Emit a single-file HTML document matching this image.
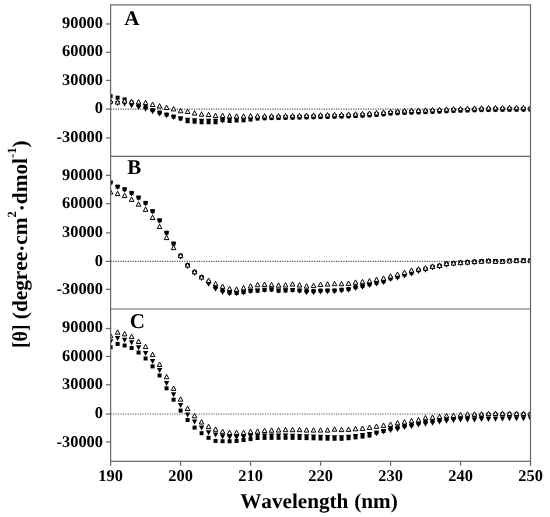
<!DOCTYPE html>
<html><head><meta charset="utf-8"><style>
html,body{margin:0;padding:0;background:#fff;}
body{width:550px;height:517px;position:relative;overflow:hidden;font-family:"Liberation Serif",serif;}
</style></head><body>
<svg width="550" height="517" viewBox="0 0 550 517" style="position:absolute;left:0;top:0;will-change:transform">
<defs><clipPath id="pc"><rect x="110.60" y="4.90" width="419.90" height="456.40"/></clipPath></defs>
<line x1="110.6" y1="109.10" x2="530.5" y2="109.10" stroke="#555" stroke-width="1.1" stroke-dasharray="1.2 1.25"/>
<line x1="110.6" y1="261.35" x2="530.5" y2="261.35" stroke="#555" stroke-width="1.1" stroke-dasharray="1.2 1.25"/>
<line x1="110.6" y1="414.00" x2="530.5" y2="414.00" stroke="#555" stroke-width="1.1" stroke-dasharray="1.2 1.25"/>
<g clip-path="url(#pc)">
<g fill="#000"><rect x="108.60" y="94.20" width="4.0" height="4.0"/><rect x="115.60" y="95.70" width="4.0" height="4.0"/><rect x="122.60" y="97.40" width="4.0" height="4.0"/><rect x="129.59" y="100.50" width="4.0" height="4.0"/><rect x="136.59" y="103.00" width="4.0" height="4.0"/><rect x="143.59" y="105.00" width="4.0" height="4.0"/><rect x="150.59" y="108.00" width="4.0" height="4.0"/><rect x="157.59" y="110.50" width="4.0" height="4.0"/><rect x="164.58" y="112.50" width="4.0" height="4.0"/><rect x="171.58" y="114.50" width="4.0" height="4.0"/><rect x="178.58" y="116.50" width="4.0" height="4.0"/><rect x="185.58" y="119.20" width="4.0" height="4.0"/><rect x="192.58" y="119.70" width="4.0" height="4.0"/><rect x="199.57" y="120.30" width="4.0" height="4.0"/><rect x="206.57" y="120.30" width="4.0" height="4.0"/><rect x="213.57" y="120.30" width="4.0" height="4.0"/><rect x="220.57" y="118.10" width="4.0" height="4.0"/><rect x="227.57" y="119.00" width="4.0" height="4.0"/><rect x="234.56" y="118.50" width="4.0" height="4.0"/><rect x="241.56" y="118.30" width="4.0" height="4.0"/><rect x="248.56" y="117.50" width="4.0" height="4.0"/><rect x="255.56" y="116.50" width="4.0" height="4.0"/><rect x="262.56" y="116.23" width="4.0" height="4.0"/><rect x="269.55" y="116.06" width="4.0" height="4.0"/><rect x="276.55" y="115.94" width="4.0" height="4.0"/><rect x="283.55" y="115.80" width="4.0" height="4.0"/><rect x="290.55" y="115.64" width="4.0" height="4.0"/><rect x="297.55" y="115.48" width="4.0" height="4.0"/><rect x="304.54" y="115.33" width="4.0" height="4.0"/><rect x="311.54" y="115.17" width="4.0" height="4.0"/><rect x="318.54" y="115.00" width="4.0" height="4.0"/><rect x="325.54" y="114.83" width="4.0" height="4.0"/><rect x="332.54" y="114.65" width="4.0" height="4.0"/><rect x="339.53" y="114.47" width="4.0" height="4.0"/><rect x="346.53" y="114.25" width="4.0" height="4.0"/><rect x="353.53" y="114.00" width="4.0" height="4.0"/><rect x="360.53" y="113.69" width="4.0" height="4.0"/><rect x="367.53" y="113.31" width="4.0" height="4.0"/><rect x="374.52" y="112.85" width="4.0" height="4.0"/><rect x="381.52" y="112.30" width="4.0" height="4.0"/><rect x="388.52" y="111.50" width="4.0" height="4.0"/><rect x="395.52" y="111.10" width="4.0" height="4.0"/><rect x="402.52" y="110.81" width="4.0" height="4.0"/><rect x="409.51" y="110.58" width="4.0" height="4.0"/><rect x="416.51" y="110.36" width="4.0" height="4.0"/><rect x="423.51" y="110.10" width="4.0" height="4.0"/><rect x="430.51" y="109.79" width="4.0" height="4.0"/><rect x="437.51" y="109.46" width="4.0" height="4.0"/><rect x="444.50" y="109.14" width="4.0" height="4.0"/><rect x="451.50" y="108.84" width="4.0" height="4.0"/><rect x="458.50" y="108.60" width="4.0" height="4.0"/><rect x="465.50" y="108.39" width="4.0" height="4.0"/><rect x="472.50" y="108.20" width="4.0" height="4.0"/><rect x="479.49" y="108.03" width="4.0" height="4.0"/><rect x="486.49" y="107.89" width="4.0" height="4.0"/><rect x="493.49" y="107.80" width="4.0" height="4.0"/><rect x="500.49" y="107.74" width="4.0" height="4.0"/><rect x="507.49" y="107.68" width="4.0" height="4.0"/><rect x="514.48" y="107.64" width="4.0" height="4.0"/><rect x="521.48" y="107.61" width="4.0" height="4.0"/><rect x="528.48" y="107.60" width="4.0" height="4.0"/><path d="M107.90 101.00H113.30L110.60 106.00Z"/><path d="M114.90 101.00H120.30L117.60 106.00Z"/><path d="M121.90 101.60H127.30L124.60 106.60Z"/><path d="M128.89 103.20H134.29L131.59 108.20Z"/><path d="M135.89 105.00H141.29L138.59 110.00Z"/><path d="M142.89 106.80H148.29L145.59 111.80Z"/><path d="M149.89 109.30H155.29L152.59 114.30Z"/><path d="M156.89 111.50H162.29L159.59 116.50Z"/><path d="M163.88 113.20H169.28L166.58 118.20Z"/><path d="M170.88 115.00H176.28L173.58 120.00Z"/><path d="M177.88 116.50H183.28L180.58 121.50Z"/><path d="M184.88 117.70H190.28L187.58 122.70Z"/><path d="M191.88 118.20H197.28L194.58 123.20Z"/><path d="M198.87 118.80H204.27L201.57 123.80Z"/><path d="M205.87 118.80H211.27L208.57 123.80Z"/><path d="M212.87 118.80H218.27L215.57 123.80Z"/><path d="M219.87 118.60H225.27L222.57 123.60Z"/><path d="M226.87 117.30H232.27L229.57 122.30Z"/><path d="M233.86 117.30H239.26L236.56 122.30Z"/><path d="M240.86 117.00H246.26L243.56 122.00Z"/><path d="M247.86 116.80H253.26L250.56 121.80Z"/><path d="M254.86 116.00H260.26L257.56 121.00Z"/><path d="M261.86 115.74H267.26L264.56 120.74Z"/><path d="M268.85 115.57H274.25L271.55 120.57Z"/><path d="M275.85 115.44H281.25L278.55 120.44Z"/><path d="M282.85 115.30H288.25L285.55 120.30Z"/><path d="M289.85 115.14H295.25L292.55 120.14Z"/><path d="M296.85 114.98H302.25L299.55 119.98Z"/><path d="M303.84 114.83H309.24L306.54 119.83Z"/><path d="M310.84 114.67H316.24L313.54 119.67Z"/><path d="M317.84 114.50H323.24L320.54 119.50Z"/><path d="M324.84 114.33H330.24L327.54 119.33Z"/><path d="M331.84 114.15H337.24L334.54 119.15Z"/><path d="M338.83 113.97H344.23L341.53 118.97Z"/><path d="M345.83 113.75H351.23L348.53 118.75Z"/><path d="M352.83 113.50H358.23L355.53 118.50Z"/><path d="M359.83 113.19H365.23L362.53 118.19Z"/><path d="M366.83 112.81H372.23L369.53 117.81Z"/><path d="M373.82 112.35H379.22L376.52 117.35Z"/><path d="M380.82 111.80H386.22L383.52 116.80Z"/><path d="M387.82 111.00H393.22L390.52 116.00Z"/><path d="M394.82 110.60H400.22L397.52 115.60Z"/><path d="M401.82 110.31H407.22L404.52 115.31Z"/><path d="M408.81 110.08H414.21L411.51 115.08Z"/><path d="M415.81 109.86H421.21L418.51 114.86Z"/><path d="M422.81 109.60H428.21L425.51 114.60Z"/><path d="M429.81 109.29H435.21L432.51 114.29Z"/><path d="M436.81 108.96H442.21L439.51 113.96Z"/><path d="M443.80 108.64H449.20L446.50 113.64Z"/><path d="M450.80 108.34H456.20L453.50 113.34Z"/><path d="M457.80 108.10H463.20L460.50 113.10Z"/><path d="M464.80 107.89H470.20L467.50 112.89Z"/><path d="M471.80 107.70H477.20L474.50 112.70Z"/><path d="M478.79 107.53H484.19L481.49 112.53Z"/><path d="M485.79 107.39H491.19L488.49 112.39Z"/><path d="M492.79 107.30H498.19L495.49 112.30Z"/><path d="M499.79 107.24H505.19L502.49 112.24Z"/><path d="M506.79 107.18H512.19L509.49 112.18Z"/><path d="M513.78 107.14H519.18L516.48 112.14Z"/><path d="M520.78 107.11H526.18L523.48 112.11Z"/><path d="M527.78 107.10H533.18L530.48 112.10Z"/></g><g fill="#fff" stroke="#000" stroke-width="1"><path d="M110.60 98.70L112.90 103.10H108.30Z"/><path d="M117.60 99.70L119.90 104.10H115.30Z"/><path d="M124.60 98.60L126.90 103.00H122.30Z"/><path d="M131.59 99.20L133.89 103.60H129.29Z"/><path d="M138.59 99.50L140.89 103.90H136.29Z"/><path d="M145.59 100.20L147.89 104.60H143.29Z"/><path d="M152.59 102.10L154.89 106.50H150.29Z"/><path d="M159.59 103.60L161.89 108.00H157.29Z"/><path d="M166.58 105.10L168.88 109.50H164.28Z"/><path d="M173.58 106.50L175.88 110.90H171.28Z"/><path d="M180.58 108.40L182.88 112.80H178.28Z"/><path d="M187.58 109.10L189.88 113.50H185.28Z"/><path d="M194.58 110.70L196.88 115.10H192.28Z"/><path d="M201.57 111.80L203.87 116.20H199.27Z"/><path d="M208.57 112.20L210.87 116.60H206.27Z"/><path d="M215.57 113.10L217.87 117.50H213.27Z"/><path d="M222.57 113.10L224.87 117.50H220.27Z"/><path d="M229.57 113.60L231.87 118.00H227.27Z"/><path d="M236.56 113.80L238.86 118.20H234.26Z"/><path d="M243.56 113.80L245.86 118.20H241.26Z"/><path d="M250.56 113.60L252.86 118.00H248.26Z"/><path d="M257.56 113.70L259.86 118.10H255.26Z"/><path d="M264.56 113.68L266.86 118.08H262.26Z"/><path d="M271.55 113.64L273.85 118.04H269.25Z"/><path d="M278.55 113.57L280.85 117.97H276.25Z"/><path d="M285.55 113.50L287.85 117.90H283.25Z"/><path d="M292.55 113.40L294.85 117.80H290.25Z"/><path d="M299.55 113.25L301.85 117.65H297.25Z"/><path d="M306.54 113.07L308.84 117.47H304.24Z"/><path d="M313.54 112.89L315.84 117.29H311.24Z"/><path d="M320.54 112.70L322.84 117.10H318.24Z"/><path d="M327.54 112.53L329.84 116.93H325.24Z"/><path d="M334.54 112.35L336.84 116.75H332.24Z"/><path d="M341.53 112.17L343.83 116.57H339.23Z"/><path d="M348.53 111.95L350.83 116.35H346.23Z"/><path d="M355.53 111.70L357.83 116.10H353.23Z"/><path d="M362.53 111.39L364.83 115.79H360.23Z"/><path d="M369.53 111.01L371.83 115.41H367.23Z"/><path d="M376.52 110.55L378.82 114.95H374.22Z"/><path d="M383.52 110.00L385.82 114.40H381.22Z"/><path d="M390.52 109.20L392.82 113.60H388.22Z"/><path d="M397.52 108.80L399.82 113.20H395.22Z"/><path d="M404.52 108.51L406.82 112.91H402.22Z"/><path d="M411.51 108.28L413.81 112.68H409.21Z"/><path d="M418.51 108.06L420.81 112.46H416.21Z"/><path d="M425.51 107.80L427.81 112.20H423.21Z"/><path d="M432.51 107.49L434.81 111.89H430.21Z"/><path d="M439.51 107.16L441.81 111.56H437.21Z"/><path d="M446.50 106.84L448.80 111.24H444.20Z"/><path d="M453.50 106.54L455.80 110.94H451.20Z"/><path d="M460.50 106.30L462.80 110.70H458.20Z"/><path d="M467.50 106.09L469.80 110.49H465.20Z"/><path d="M474.50 105.90L476.80 110.30H472.20Z"/><path d="M481.49 105.73L483.79 110.13H479.19Z"/><path d="M488.49 105.59L490.79 109.99H486.19Z"/><path d="M495.49 105.50L497.79 109.90H493.19Z"/><path d="M502.49 105.44L504.79 109.84H500.19Z"/><path d="M509.49 105.38L511.79 109.78H507.19Z"/><path d="M516.48 105.34L518.78 109.74H514.18Z"/><path d="M523.48 105.31L525.78 109.71H521.18Z"/><path d="M530.48 105.30L532.78 109.70H528.18Z"/></g>
<g fill="#000"><rect x="108.60" y="180.50" width="4.0" height="4.0"/><rect x="115.60" y="184.60" width="4.0" height="4.0"/><rect x="122.60" y="187.20" width="4.0" height="4.0"/><rect x="129.59" y="190.90" width="4.0" height="4.0"/><rect x="136.59" y="195.50" width="4.0" height="4.0"/><rect x="143.59" y="200.90" width="4.0" height="4.0"/><rect x="150.59" y="209.10" width="4.0" height="4.0"/><rect x="157.59" y="218.30" width="4.0" height="4.0"/><rect x="164.58" y="230.70" width="4.0" height="4.0"/><rect x="171.58" y="241.50" width="4.0" height="4.0"/><rect x="178.58" y="253.50" width="4.0" height="4.0"/><rect x="185.58" y="263.00" width="4.0" height="4.0"/><rect x="192.58" y="269.80" width="4.0" height="4.0"/><rect x="199.57" y="275.00" width="4.0" height="4.0"/><rect x="206.57" y="280.20" width="4.0" height="4.0"/><rect x="213.57" y="285.00" width="4.0" height="4.0"/><rect x="220.57" y="288.30" width="4.0" height="4.0"/><rect x="227.57" y="290.50" width="4.0" height="4.0"/><rect x="234.56" y="291.00" width="4.0" height="4.0"/><rect x="241.56" y="290.00" width="4.0" height="4.0"/><rect x="248.56" y="289.00" width="4.0" height="4.0"/><rect x="255.56" y="288.70" width="4.0" height="4.0"/><rect x="262.56" y="288.00" width="4.0" height="4.0"/><rect x="269.55" y="287.50" width="4.0" height="4.0"/><rect x="276.55" y="288.80" width="4.0" height="4.0"/><rect x="283.55" y="288.50" width="4.0" height="4.0"/><rect x="290.55" y="288.00" width="4.0" height="4.0"/><rect x="297.55" y="288.50" width="4.0" height="4.0"/><rect x="304.54" y="288.80" width="4.0" height="4.0"/><rect x="311.54" y="289.00" width="4.0" height="4.0"/><rect x="318.54" y="288.50" width="4.0" height="4.0"/><rect x="325.54" y="288.40" width="4.0" height="4.0"/><rect x="332.54" y="288.40" width="4.0" height="4.0"/><rect x="339.53" y="287.70" width="4.0" height="4.0"/><rect x="346.53" y="287.00" width="4.0" height="4.0"/><rect x="353.53" y="285.10" width="4.0" height="4.0"/><rect x="360.53" y="283.90" width="4.0" height="4.0"/><rect x="367.53" y="282.20" width="4.0" height="4.0"/><rect x="374.52" y="280.70" width="4.0" height="4.0"/><rect x="381.52" y="279.30" width="4.0" height="4.0"/><rect x="388.52" y="276.30" width="4.0" height="4.0"/><rect x="395.52" y="274.70" width="4.0" height="4.0"/><rect x="402.52" y="272.70" width="4.0" height="4.0"/><rect x="409.51" y="270.70" width="4.0" height="4.0"/><rect x="416.51" y="268.10" width="4.0" height="4.0"/><rect x="423.51" y="267.00" width="4.0" height="4.0"/><rect x="430.51" y="264.80" width="4.0" height="4.0"/><rect x="437.51" y="263.70" width="4.0" height="4.0"/><rect x="444.50" y="261.50" width="4.0" height="4.0"/><rect x="451.50" y="261.00" width="4.0" height="4.0"/><rect x="458.50" y="260.50" width="4.0" height="4.0"/><rect x="465.50" y="260.00" width="4.0" height="4.0"/><rect x="472.50" y="259.50" width="4.0" height="4.0"/><rect x="479.49" y="259.20" width="4.0" height="4.0"/><rect x="486.49" y="258.80" width="4.0" height="4.0"/><rect x="493.49" y="259.30" width="4.0" height="4.0"/><rect x="500.49" y="259.30" width="4.0" height="4.0"/><rect x="507.49" y="258.80" width="4.0" height="4.0"/><rect x="514.48" y="258.50" width="4.0" height="4.0"/><rect x="521.48" y="258.50" width="4.0" height="4.0"/><rect x="528.48" y="258.50" width="4.0" height="4.0"/><path d="M107.90 181.00H113.30L110.60 186.00Z"/><path d="M114.90 185.10H120.30L117.60 190.10Z"/><path d="M121.90 187.70H127.30L124.60 192.70Z"/><path d="M128.89 191.40H134.29L131.59 196.40Z"/><path d="M135.89 196.00H141.29L138.59 201.00Z"/><path d="M142.89 201.40H148.29L145.59 206.40Z"/><path d="M149.89 209.60H155.29L152.59 214.60Z"/><path d="M156.89 218.80H162.29L159.59 223.80Z"/><path d="M163.88 231.20H169.28L166.58 236.20Z"/><path d="M170.88 242.00H176.28L173.58 247.00Z"/><path d="M177.88 254.60H183.28L180.58 259.60Z"/><path d="M184.88 264.10H190.28L187.58 269.10Z"/><path d="M191.88 270.90H197.28L194.58 275.90Z"/><path d="M198.87 276.10H204.27L201.57 281.10Z"/><path d="M205.87 281.70H211.27L208.57 286.70Z"/><path d="M212.87 286.80H218.27L215.57 291.80Z"/><path d="M219.87 290.00H225.27L222.57 295.00Z"/><path d="M226.87 291.20H232.27L229.57 296.20Z"/><path d="M233.86 291.30H239.26L236.56 296.30Z"/><path d="M240.86 290.50H246.26L243.56 295.50Z"/><path d="M247.86 289.10H253.26L250.56 294.10Z"/><path d="M254.86 288.50H260.26L257.56 293.50Z"/><path d="M261.86 287.80H267.26L264.56 292.80Z"/><path d="M268.85 287.50H274.25L271.55 292.50Z"/><path d="M275.85 288.50H281.25L278.55 293.50Z"/><path d="M282.85 288.20H288.25L285.55 293.20Z"/><path d="M289.85 287.90H295.25L292.55 292.90Z"/><path d="M296.85 288.80H302.25L299.55 293.80Z"/><path d="M303.84 290.30H309.24L306.54 295.30Z"/><path d="M310.84 290.30H316.24L313.54 295.30Z"/><path d="M317.84 289.50H323.24L320.54 294.50Z"/><path d="M324.84 289.20H330.24L327.54 294.20Z"/><path d="M331.84 289.20H337.24L334.54 294.20Z"/><path d="M338.83 288.50H344.23L341.53 293.50Z"/><path d="M345.83 287.80H351.23L348.53 292.80Z"/><path d="M352.83 285.90H358.23L355.53 290.90Z"/><path d="M359.83 284.70H365.23L362.53 289.70Z"/><path d="M366.83 283.00H372.23L369.53 288.00Z"/><path d="M373.82 281.50H379.22L376.52 286.50Z"/><path d="M380.82 280.10H386.22L383.52 285.10Z"/><path d="M387.82 277.10H393.22L390.52 282.10Z"/><path d="M394.82 275.50H400.22L397.52 280.50Z"/><path d="M401.82 273.50H407.22L404.52 278.50Z"/><path d="M408.81 271.50H414.21L411.51 276.50Z"/><path d="M415.81 268.90H421.21L418.51 273.90Z"/><path d="M422.81 267.80H428.21L425.51 272.80Z"/><path d="M429.81 265.60H435.21L432.51 270.60Z"/><path d="M436.81 264.50H442.21L439.51 269.50Z"/><path d="M443.80 262.80H449.20L446.50 267.80Z"/><path d="M450.80 261.70H456.20L453.50 266.70Z"/><path d="M457.80 260.90H463.20L460.50 265.90Z"/><path d="M464.80 260.70H470.20L467.50 265.70Z"/><path d="M471.80 260.30H477.20L474.50 265.30Z"/><path d="M478.79 259.50H484.19L481.49 264.50Z"/><path d="M485.79 258.90H491.19L488.49 263.90Z"/><path d="M492.79 259.30H498.19L495.49 264.30Z"/><path d="M499.79 259.30H505.19L502.49 264.30Z"/><path d="M506.79 258.80H512.19L509.49 263.80Z"/><path d="M513.78 258.50H519.18L516.48 263.50Z"/><path d="M520.78 258.50H526.18L523.48 263.50Z"/><path d="M527.78 258.50H533.18L530.48 263.50Z"/></g><g fill="#fff" stroke="#000" stroke-width="1"><path d="M110.60 189.70L112.90 194.10H108.30Z"/><path d="M117.60 191.20L119.90 195.60H115.30Z"/><path d="M124.60 193.20L126.90 197.60H122.30Z"/><path d="M131.59 197.00L133.89 201.40H129.29Z"/><path d="M138.59 201.80L140.89 206.20H136.29Z"/><path d="M145.59 207.00L147.89 211.40H143.29Z"/><path d="M152.59 215.10L154.89 219.50H150.29Z"/><path d="M159.59 224.20L161.89 228.60H157.29Z"/><path d="M166.58 235.20L168.88 239.60H164.28Z"/><path d="M173.58 245.30L175.88 249.70H171.28Z"/><path d="M180.58 253.20L182.88 257.60H178.28Z"/><path d="M187.58 262.70L189.88 267.10H185.28Z"/><path d="M194.58 269.50L196.88 273.90H192.28Z"/><path d="M201.57 274.70L203.87 279.10H199.27Z"/><path d="M208.57 278.10L210.87 282.50H206.27Z"/><path d="M215.57 281.30L217.87 285.70H213.27Z"/><path d="M222.57 284.00L224.87 288.40H220.27Z"/><path d="M229.57 286.20L231.87 290.60H227.27Z"/><path d="M236.56 286.90L238.86 291.30H234.26Z"/><path d="M243.56 285.40L245.86 289.80H241.26Z"/><path d="M250.56 283.70L252.86 288.10H248.26Z"/><path d="M257.56 282.30L259.86 286.70H255.26Z"/><path d="M264.56 282.00L266.86 286.40H262.26Z"/><path d="M271.55 282.30L273.85 286.70H269.25Z"/><path d="M278.55 282.80L280.85 287.20H276.25Z"/><path d="M285.55 282.60L287.85 287.00H283.25Z"/><path d="M292.55 281.70L294.85 286.10H290.25Z"/><path d="M299.55 282.60L301.85 287.00H297.25Z"/><path d="M306.54 283.70L308.84 288.10H304.24Z"/><path d="M313.54 283.20L315.84 287.60H311.24Z"/><path d="M320.54 282.10L322.84 286.50H318.24Z"/><path d="M327.54 281.70L329.84 286.10H325.24Z"/><path d="M334.54 281.30L336.84 285.70H332.24Z"/><path d="M341.53 281.30L343.83 285.70H339.23Z"/><path d="M348.53 281.00L350.83 285.40H346.23Z"/><path d="M355.53 279.90L357.83 284.30H353.23Z"/><path d="M362.53 279.30L364.83 283.70H360.23Z"/><path d="M369.53 278.50L371.83 282.90H367.23Z"/><path d="M376.52 277.00L378.82 281.40H374.22Z"/><path d="M383.52 275.90L385.82 280.30H381.22Z"/><path d="M390.52 273.70L392.82 278.10H388.22Z"/><path d="M397.52 271.90L399.82 276.30H395.22Z"/><path d="M404.52 270.10L406.82 274.50H402.22Z"/><path d="M411.51 267.90L413.81 272.30H409.21Z"/><path d="M418.51 266.70L420.81 271.10H416.21Z"/><path d="M425.51 265.70L427.81 270.10H423.21Z"/><path d="M432.51 263.90L434.81 268.30H430.21Z"/><path d="M439.51 263.10L441.81 267.50H437.21Z"/><path d="M446.50 261.20L448.80 265.60H444.20Z"/><path d="M453.50 260.70L455.80 265.10H451.20Z"/><path d="M460.50 260.20L462.80 264.60H458.20Z"/><path d="M467.50 259.70L469.80 264.10H465.20Z"/><path d="M474.50 259.20L476.80 263.60H472.20Z"/><path d="M481.49 258.90L483.79 263.30H479.19Z"/><path d="M488.49 258.50L490.79 262.90H486.19Z"/><path d="M495.49 259.00L497.79 263.40H493.19Z"/><path d="M502.49 259.00L504.79 263.40H500.19Z"/><path d="M509.49 258.50L511.79 262.90H507.19Z"/><path d="M516.48 258.20L518.78 262.60H514.18Z"/><path d="M523.48 258.20L525.78 262.60H521.18Z"/><path d="M530.48 258.20L532.78 262.60H528.18Z"/></g>
<g fill="#000"><rect x="108.60" y="345.20" width="4.0" height="4.0"/><rect x="115.60" y="341.90" width="4.0" height="4.0"/><rect x="122.60" y="343.50" width="4.0" height="4.0"/><rect x="129.59" y="346.00" width="4.0" height="4.0"/><rect x="136.59" y="350.50" width="4.0" height="4.0"/><rect x="143.59" y="356.50" width="4.0" height="4.0"/><rect x="150.59" y="364.40" width="4.0" height="4.0"/><rect x="157.59" y="373.50" width="4.0" height="4.0"/><rect x="164.58" y="386.30" width="4.0" height="4.0"/><rect x="171.58" y="397.70" width="4.0" height="4.0"/><rect x="178.58" y="408.60" width="4.0" height="4.0"/><rect x="185.58" y="418.00" width="4.0" height="4.0"/><rect x="192.58" y="425.60" width="4.0" height="4.0"/><rect x="199.57" y="431.20" width="4.0" height="4.0"/><rect x="206.57" y="435.80" width="4.0" height="4.0"/><rect x="213.57" y="438.90" width="4.0" height="4.0"/><rect x="220.57" y="439.20" width="4.0" height="4.0"/><rect x="227.57" y="439.30" width="4.0" height="4.0"/><rect x="234.56" y="439.00" width="4.0" height="4.0"/><rect x="241.56" y="438.00" width="4.0" height="4.0"/><rect x="248.56" y="437.10" width="4.0" height="4.0"/><rect x="255.56" y="436.00" width="4.0" height="4.0"/><rect x="262.56" y="435.90" width="4.0" height="4.0"/><rect x="269.55" y="435.84" width="4.0" height="4.0"/><rect x="276.55" y="435.81" width="4.0" height="4.0"/><rect x="283.55" y="435.80" width="4.0" height="4.0"/><rect x="290.55" y="435.85" width="4.0" height="4.0"/><rect x="297.55" y="435.97" width="4.0" height="4.0"/><rect x="304.54" y="436.13" width="4.0" height="4.0"/><rect x="311.54" y="436.30" width="4.0" height="4.0"/><rect x="318.54" y="436.52" width="4.0" height="4.0"/><rect x="325.54" y="436.70" width="4.0" height="4.0"/><rect x="332.54" y="436.77" width="4.0" height="4.0"/><rect x="339.53" y="436.80" width="4.0" height="4.0"/><rect x="346.53" y="436.20" width="4.0" height="4.0"/><rect x="353.53" y="435.40" width="4.0" height="4.0"/><rect x="360.53" y="434.60" width="4.0" height="4.0"/><rect x="367.53" y="433.60" width="4.0" height="4.0"/><rect x="374.52" y="430.50" width="4.0" height="4.0"/><rect x="381.52" y="429.00" width="4.0" height="4.0"/><rect x="388.52" y="426.60" width="4.0" height="4.0"/><rect x="395.52" y="425.40" width="4.0" height="4.0"/><rect x="402.52" y="423.80" width="4.0" height="4.0"/><rect x="409.51" y="422.50" width="4.0" height="4.0"/><rect x="416.51" y="421.00" width="4.0" height="4.0"/><rect x="423.51" y="419.50" width="4.0" height="4.0"/><rect x="430.51" y="418.80" width="4.0" height="4.0"/><rect x="437.51" y="417.80" width="4.0" height="4.0"/><rect x="444.50" y="416.60" width="4.0" height="4.0"/><rect x="451.50" y="416.00" width="4.0" height="4.0"/><rect x="458.50" y="415.00" width="4.0" height="4.0"/><rect x="465.50" y="414.00" width="4.0" height="4.0"/><rect x="472.50" y="413.50" width="4.0" height="4.0"/><rect x="479.49" y="413.00" width="4.0" height="4.0"/><rect x="486.49" y="412.50" width="4.0" height="4.0"/><rect x="493.49" y="412.30" width="4.0" height="4.0"/><rect x="500.49" y="412.20" width="4.0" height="4.0"/><rect x="507.49" y="412.20" width="4.0" height="4.0"/><rect x="514.48" y="412.20" width="4.0" height="4.0"/><rect x="521.48" y="412.20" width="4.0" height="4.0"/><rect x="528.48" y="412.20" width="4.0" height="4.0"/><path d="M107.90 339.20H113.30L110.60 344.20Z"/><path d="M114.90 336.10H120.30L117.60 341.10Z"/><path d="M121.90 337.80H127.30L124.60 342.80Z"/><path d="M128.89 340.20H134.29L131.59 345.20Z"/><path d="M135.89 345.30H141.29L138.59 350.30Z"/><path d="M142.89 350.90H148.29L145.59 355.90Z"/><path d="M149.89 358.90H155.29L152.59 363.90Z"/><path d="M156.89 367.90H162.29L159.59 372.90Z"/><path d="M163.88 381.00H169.28L166.58 386.00Z"/><path d="M170.88 392.30H176.28L173.58 397.30Z"/><path d="M177.88 403.10H183.28L180.58 408.10Z"/><path d="M184.88 412.40H190.28L187.58 417.40Z"/><path d="M191.88 419.40H197.28L194.58 424.40Z"/><path d="M198.87 425.60H204.27L201.57 430.60Z"/><path d="M205.87 430.20H211.27L208.57 435.20Z"/><path d="M212.87 432.50H218.27L215.57 437.50Z"/><path d="M219.87 434.30H225.27L222.57 439.30Z"/><path d="M226.87 435.00H232.27L229.57 440.00Z"/><path d="M233.86 435.00H239.26L236.56 440.00Z"/><path d="M240.86 434.80H246.26L243.56 439.80Z"/><path d="M247.86 433.90H253.26L250.56 438.90Z"/><path d="M254.86 433.80H260.26L257.56 438.80Z"/><path d="M261.86 433.50H267.26L264.56 438.50Z"/><path d="M268.85 433.50H274.25L271.55 438.50Z"/><path d="M275.85 433.50H281.25L278.55 438.50Z"/><path d="M282.85 433.50H288.25L285.55 438.50Z"/><path d="M289.85 433.69H295.25L292.55 438.69Z"/><path d="M296.85 434.00H302.25L299.55 439.00Z"/><path d="M303.84 434.25H309.24L306.54 439.25Z"/><path d="M310.84 434.50H316.24L313.54 439.50Z"/><path d="M317.84 434.77H323.24L320.54 439.77Z"/><path d="M324.84 435.00H330.24L327.54 440.00Z"/><path d="M331.84 435.20H337.24L334.54 440.20Z"/><path d="M338.83 435.30H344.23L341.53 440.30Z"/><path d="M345.83 434.70H351.23L348.53 439.70Z"/><path d="M352.83 433.90H358.23L355.53 438.90Z"/><path d="M359.83 433.10H365.23L362.53 438.10Z"/><path d="M366.83 432.10H372.23L369.53 437.10Z"/><path d="M373.82 431.30H379.22L376.52 436.30Z"/><path d="M380.82 429.40H386.22L383.52 434.40Z"/><path d="M387.82 428.10H393.22L390.52 433.10Z"/><path d="M394.82 426.90H400.22L397.52 431.90Z"/><path d="M401.82 425.00H407.22L404.52 430.00Z"/><path d="M408.81 424.00H414.21L411.51 429.00Z"/><path d="M415.81 422.50H421.21L418.51 427.50Z"/><path d="M422.81 421.80H428.21L425.51 426.80Z"/><path d="M429.81 420.70H435.21L432.51 425.70Z"/><path d="M436.81 419.60H442.21L439.51 424.60Z"/><path d="M443.80 418.70H449.20L446.50 423.70Z"/><path d="M450.80 418.00H456.20L453.50 423.00Z"/><path d="M457.80 417.60H463.20L460.50 422.60Z"/><path d="M464.80 417.60H470.20L467.50 422.60Z"/><path d="M471.80 417.50H477.20L474.50 422.50Z"/><path d="M478.79 417.00H484.19L481.49 422.00Z"/><path d="M485.79 417.00H491.19L488.49 422.00Z"/><path d="M492.79 416.70H498.19L495.49 421.70Z"/><path d="M499.79 416.40H505.19L502.49 421.40Z"/><path d="M506.79 416.30H512.19L509.49 421.30Z"/><path d="M513.78 416.30H519.18L516.48 421.30Z"/><path d="M520.78 416.30H526.18L523.48 421.30Z"/><path d="M527.78 416.30H533.18L530.48 421.30Z"/></g><g fill="#fff" stroke="#000" stroke-width="1"><path d="M110.60 333.30L112.90 337.70H108.30Z"/><path d="M117.60 329.80L119.90 334.20H115.30Z"/><path d="M124.60 331.50L126.90 335.90H122.30Z"/><path d="M131.59 334.20L133.89 338.60H129.29Z"/><path d="M138.59 339.10L140.89 343.50H136.29Z"/><path d="M145.59 344.20L147.89 348.60H143.29Z"/><path d="M152.59 352.20L154.89 356.60H150.29Z"/><path d="M159.59 362.10L161.89 366.50H157.29Z"/><path d="M166.58 374.40L168.88 378.80H164.28Z"/><path d="M173.58 386.00L175.88 390.40H171.28Z"/><path d="M180.58 396.80L182.88 401.20H178.28Z"/><path d="M187.58 406.10L189.88 410.50H185.28Z"/><path d="M194.58 413.40L196.88 417.80H192.28Z"/><path d="M201.57 419.60L203.87 424.00H199.27Z"/><path d="M208.57 424.20L210.87 428.60H206.27Z"/><path d="M215.57 426.90L217.87 431.30H213.27Z"/><path d="M222.57 429.00L224.87 433.40H220.27Z"/><path d="M229.57 430.10L231.87 434.50H227.27Z"/><path d="M236.56 430.10L238.86 434.50H234.26Z"/><path d="M243.56 430.10L245.86 434.50H241.26Z"/><path d="M250.56 429.20L252.86 433.60H248.26Z"/><path d="M257.56 428.80L259.86 433.20H255.26Z"/><path d="M264.56 428.10L266.86 432.50H262.26Z"/><path d="M271.55 427.80L273.85 432.20H269.25Z"/><path d="M278.55 427.60L280.85 432.00H276.25Z"/><path d="M285.55 427.30L287.85 431.70H283.25Z"/><path d="M292.55 427.30L294.85 431.70H290.25Z"/><path d="M299.55 427.30L301.85 431.70H297.25Z"/><path d="M306.54 427.70L308.84 432.10H304.24Z"/><path d="M313.54 427.70L315.84 432.10H311.24Z"/><path d="M320.54 427.70L322.84 432.10H318.24Z"/><path d="M327.54 427.70L329.84 432.10H325.24Z"/><path d="M334.54 426.80L336.84 431.20H332.24Z"/><path d="M341.53 427.20L343.83 431.60H339.23Z"/><path d="M348.53 427.00L350.83 431.40H346.23Z"/><path d="M355.53 426.40L357.83 430.80H353.23Z"/><path d="M362.53 426.00L364.83 430.40H360.23Z"/><path d="M369.53 425.00L371.83 429.40H367.23Z"/><path d="M376.52 424.00L378.82 428.40H374.22Z"/><path d="M383.52 423.00L385.82 427.40H381.22Z"/><path d="M390.52 422.00L392.82 426.40H388.22Z"/><path d="M397.52 420.50L399.82 424.90H395.22Z"/><path d="M404.52 419.60L406.82 424.00H402.22Z"/><path d="M411.51 418.40L413.81 422.80H409.21Z"/><path d="M418.51 417.50L420.81 421.90H416.21Z"/><path d="M425.51 415.40L427.81 419.80H423.21Z"/><path d="M432.51 415.00L434.81 419.40H430.21Z"/><path d="M439.51 414.20L441.81 418.60H437.21Z"/><path d="M446.50 413.40L448.80 417.80H444.20Z"/><path d="M453.50 413.10L455.80 417.50H451.20Z"/><path d="M460.50 412.30L462.80 416.70H458.20Z"/><path d="M467.50 411.80L469.80 416.20H465.20Z"/><path d="M474.50 411.80L476.80 416.20H472.20Z"/><path d="M481.49 411.60L483.79 416.00H479.19Z"/><path d="M488.49 411.30L490.79 415.70H486.19Z"/><path d="M495.49 411.10L497.79 415.50H493.19Z"/><path d="M502.49 411.10L504.79 415.50H500.19Z"/><path d="M509.49 411.10L511.79 415.50H507.19Z"/><path d="M516.48 411.10L518.78 415.50H514.18Z"/><path d="M523.48 411.10L525.78 415.50H521.18Z"/><path d="M530.48 411.10L532.78 415.50H528.18Z"/></g>
</g>
<g stroke="#666" stroke-width="1.2" fill="none">
<rect x="110.6" y="4.9" width="419.90" height="456.40"/>
<line x1="110.6" y1="156.4" x2="530.5" y2="156.4"/>
<line x1="110.6" y1="309.0" x2="530.5" y2="309.0"/>
<line x1="105.80" y1="23.97" x2="110.6" y2="23.97"/>
<line x1="105.80" y1="52.30" x2="110.6" y2="52.30"/>
<line x1="105.80" y1="80.40" x2="110.6" y2="80.40"/>
<line x1="105.80" y1="109.10" x2="110.6" y2="109.10"/>
<line x1="105.80" y1="138.00" x2="110.6" y2="138.00"/>
<line x1="105.80" y1="175.40" x2="110.6" y2="175.40"/>
<line x1="105.80" y1="203.70" x2="110.6" y2="203.70"/>
<line x1="105.80" y1="232.85" x2="110.6" y2="232.85"/>
<line x1="105.80" y1="261.30" x2="110.6" y2="261.30"/>
<line x1="105.80" y1="289.30" x2="110.6" y2="289.30"/>
<line x1="105.80" y1="328.50" x2="110.6" y2="328.50"/>
<line x1="105.80" y1="356.46" x2="110.6" y2="356.46"/>
<line x1="105.80" y1="384.75" x2="110.6" y2="384.75"/>
<line x1="105.80" y1="414.00" x2="110.6" y2="414.00"/>
<line x1="105.80" y1="442.00" x2="110.6" y2="442.00"/>
<line x1="110.60" y1="461.3" x2="110.60" y2="465.70"/>
<line x1="180.60" y1="461.3" x2="180.60" y2="465.70"/>
<line x1="250.60" y1="461.3" x2="250.60" y2="465.70"/>
<line x1="320.60" y1="461.3" x2="320.60" y2="465.70"/>
<line x1="390.60" y1="461.3" x2="390.60" y2="465.70"/>
<line x1="460.60" y1="461.3" x2="460.60" y2="465.70"/>
<line x1="530.60" y1="461.3" x2="530.60" y2="465.70"/>
</g>
<g style="font-family:&quot;Liberation Serif&quot;,serif;font-weight:bold;text-rendering:geometricPrecision;font-kerning:none" fill="#000">
<text x="103.0" y="27.74" font-size="16.4" text-anchor="end">90000</text>
<text x="103.0" y="56.31" font-size="16.4" text-anchor="end">60000</text>
<text x="103.0" y="84.88" font-size="16.4" text-anchor="end">30000</text>
<text x="103.0" y="113.45" font-size="16.4" text-anchor="end">0</text>
<text x="103.0" y="142.02" font-size="16.4" text-anchor="end">-30000</text>
<text x="103.0" y="179.62" font-size="16.4" text-anchor="end">90000</text>
<text x="103.0" y="208.25" font-size="16.4" text-anchor="end">60000</text>
<text x="103.0" y="236.88" font-size="16.4" text-anchor="end">30000</text>
<text x="103.0" y="265.51" font-size="16.4" text-anchor="end">0</text>
<text x="103.0" y="294.14" font-size="16.4" text-anchor="end">-30000</text>
<text x="103.0" y="332.02" font-size="16.4" text-anchor="end">90000</text>
<text x="103.0" y="360.69" font-size="16.4" text-anchor="end">60000</text>
<text x="103.0" y="389.36" font-size="16.4" text-anchor="end">30000</text>
<text x="103.0" y="418.03" font-size="16.4" text-anchor="end">0</text>
<text x="103.0" y="446.70" font-size="16.4" text-anchor="end">-30000</text>
<text x="110.60" y="481.3" font-size="16.4" text-anchor="middle">190</text>
<text x="180.60" y="481.3" font-size="16.4" text-anchor="middle">200</text>
<text x="250.60" y="481.3" font-size="16.4" text-anchor="middle">210</text>
<text x="320.60" y="481.3" font-size="16.4" text-anchor="middle">220</text>
<text x="390.60" y="481.3" font-size="16.4" text-anchor="middle">230</text>
<text x="460.60" y="481.3" font-size="16.4" text-anchor="middle">240</text>
<text x="530.60" y="481.3" font-size="16.4" text-anchor="middle">250</text>
<text x="124.2" y="24.9" font-size="21">A</text>
<text x="127.3" y="174.2" font-size="21">B</text>
<text x="129.8" y="327.8" font-size="21">C</text>
<text transform="translate(240.2 508.3) scale(1.008 1)" font-size="21">Wavelength<tspan x="113.2">(nm)</tspan></text>
<text transform="translate(26.9 244.2) rotate(-90)" font-size="21.3" text-anchor="middle"><tspan textLength="23.4" lengthAdjust="spacingAndGlyphs">[&#952;]</tspan> (degree<tspan dy="2.4">&#183;</tspan><tspan dy="-2.4">cm</tspan><tspan dy="-11" font-size="12.5">2</tspan><tspan dy="13.4">&#183;</tspan><tspan dy="-2.4">dmol</tspan><tspan dy="-11" font-size="12.5">-1</tspan><tspan dy="11">)</tspan></text>
</g>
</svg>
</body></html>
